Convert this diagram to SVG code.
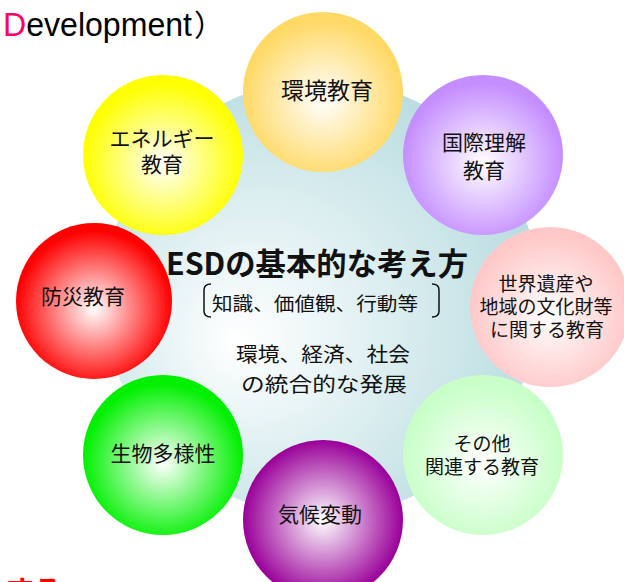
<svg xmlns="http://www.w3.org/2000/svg" width="624" height="582" viewBox="0 0 624 582">
<style>
.t{font-family:"Noto Sans CJK JP","Noto Sans",sans-serif;fill:#111;text-anchor:middle}
.s{font-size:21px}
.b{font-size:19px}
</style>
<defs>
<radialGradient id="gBig" cx="0.42" cy="0.55" r="0.6" fx="0.3" fy="0.6">
<stop offset="0" stop-color="#ffffff"/>
<stop offset="0.25" stop-color="#eef7f8"/>
<stop offset="1" stop-color="#b8dce0"/>
</radialGradient>
<radialGradient id="gGold" cx="0.5" cy="0.55" r="0.5"><stop offset="0" stop-color="#fff"/><stop offset="1" stop-color="#ffd966"/></radialGradient>
<radialGradient id="gLav" cx="0.5" cy="0.55" r="0.5"><stop offset="0" stop-color="#fff"/><stop offset="1" stop-color="#c58eff"/></radialGradient>
<radialGradient id="gYel" cx="0.5" cy="0.55" r="0.5"><stop offset="0" stop-color="#fff"/><stop offset="1" stop-color="#ffff00"/></radialGradient>
<radialGradient id="gRed" cx="0.5" cy="0.55" r="0.5"><stop offset="0" stop-color="#fff"/><stop offset="1" stop-color="#ff0000"/></radialGradient>
<radialGradient id="gPink" cx="0.5" cy="0.55" r="0.5"><stop offset="0" stop-color="#fff"/><stop offset="1" stop-color="#ffc8c8"/></radialGradient>
<radialGradient id="gGrn" cx="0.5" cy="0.55" r="0.5"><stop offset="0" stop-color="#fff"/><stop offset="1" stop-color="#00f000"/></radialGradient>
<radialGradient id="gLgrn" cx="0.5" cy="0.55" r="0.5"><stop offset="0" stop-color="#fff"/><stop offset="1" stop-color="#c8ffc8"/></radialGradient>
<radialGradient id="gPur" cx="0.5" cy="0.5" r="0.5"><stop offset="0" stop-color="#fff"/><stop offset="1" stop-color="#990099"/></radialGradient>
</defs>
<rect width="624" height="582" fill="#ffffff"/>

<text x="3" y="36" font-family="Liberation Sans, Noto Sans, sans-serif" font-size="33" textLength="189" lengthAdjust="spacingAndGlyphs"><tspan fill="#ff0066">D</tspan><tspan fill="#000">evelopment</tspan></text>
<text x="194" y="36" font-family="Noto Sans CJK JP, sans-serif" font-size="30" fill="#000">）</text>

<g id="center">
<circle cx="322" cy="298" r="218" fill="url(#gBig)"/>
<text class="t" x="317" y="275" font-size="31" font-weight="bold" textLength="302" lengthAdjust="spacingAndGlyphs">ESDの基本的な考え方</text>
<path d="M211,284 Q204,284 204,290 L204,311 Q204,317 211,317" fill="none" stroke="#111" stroke-width="1.5"/>
<path d="M432,284 Q439,284 439,290 L439,311 Q439,317 432,317" fill="none" stroke="#111" stroke-width="1.5"/>
<text class="t" x="315" y="311" font-size="19" textLength="206" lengthAdjust="spacingAndGlyphs">知識、価値観、行動等</text>
<text class="t" x="323" y="362" font-size="20" textLength="174" lengthAdjust="spacingAndGlyphs">環境、経済、社会</text>
<text class="t" x="324" y="392" font-size="20" textLength="166" lengthAdjust="spacingAndGlyphs">の統合的な発展</text>
</g>

<g id="kankyo">
<circle cx="323" cy="92" r="80" fill="url(#gGold)"/>
<text class="t" x="327" y="99" font-size="23">環境教育</text>
</g>
<g id="kokusai">
<circle cx="483" cy="155" r="80" fill="url(#gLav)"/>
<text class="t s" x="484" y="150">国際理解</text>
<text class="t s" x="484" y="178">教育</text>
</g>
<g id="energy">
<circle cx="163" cy="155" r="80" fill="url(#gYel)"/>
<text class="t s" x="162" y="146">エネルギー</text>
<text class="t s" x="162" y="172">教育</text>
</g>
<g id="bousai">
<circle cx="94" cy="301" r="78" fill="url(#gRed)"/>
<text class="t s" x="83" y="304">防災教育</text>
</g>
<g id="sekai">
<circle cx="550" cy="307" r="80" fill="url(#gPink)"/>
<text class="t b" x="546" y="291">世界遺産や</text>
<text class="t b" x="546" y="314">地域の文化財等</text>
<text class="t b" x="547" y="337">に関する教育</text>
</g>
<g id="seibutsu">
<circle cx="163" cy="455" r="80" fill="url(#gGrn)"/>
<text class="t s" x="163" y="461">生物多様性</text>
</g>
<g id="sonota">
<circle cx="483" cy="455" r="80" fill="url(#gLgrn)"/>
<text class="t b" x="482" y="451">その他</text>
<text class="t b" x="482" y="474">関連する教育</text>
</g>
<g id="kikou">
<circle cx="323" cy="520" r="80" fill="url(#gPur)"/>
<text class="t s" x="320" y="522">気候変動</text>
</g>

<text x="6" y="601" font-family="Noto Sans CJK JP, sans-serif" font-size="28" font-weight="bold" fill="#ff0000">する</text>
</svg>
